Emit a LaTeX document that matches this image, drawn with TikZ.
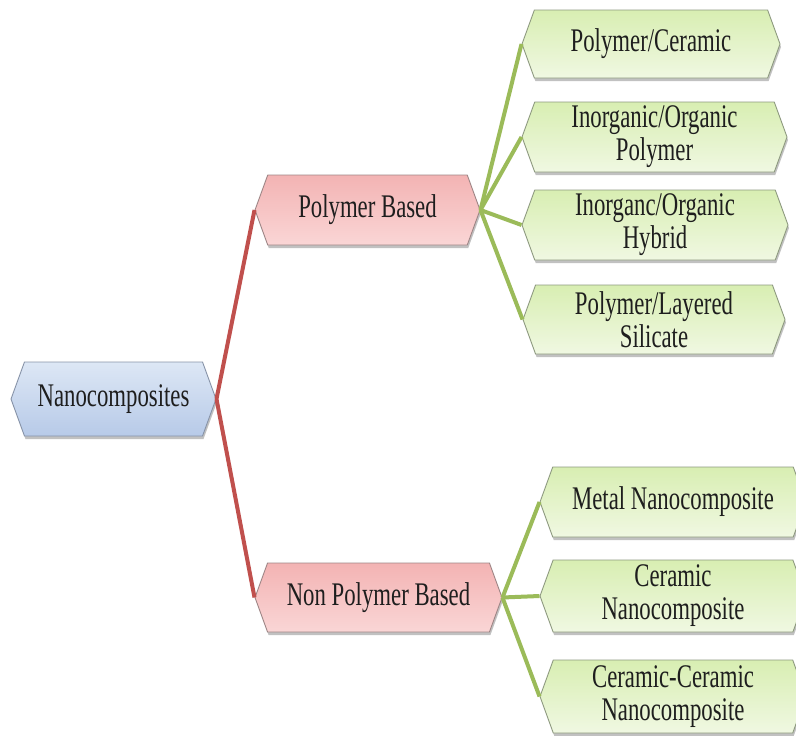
\documentclass[tikz,border=0pt]{standalone}
\usepackage{fontspec}
\setmainfont{Liberation Serif}[FakeStretch=0.69]
\usetikzlibrary{shapes.symbols,shadows}

\definecolor{txt}{HTML}{1E1E1E}
\definecolor{rootTop}{HTML}{DDE7F5}
\definecolor{rootBot}{HTML}{B7CAE8}
\definecolor{rootEdge}{HTML}{8793A8}
\definecolor{midTop}{HTML}{F3B3B3}
\definecolor{midBot}{HTML}{FAD6D6}
\definecolor{midEdge}{HTML}{9E8686}
\definecolor{leafTop}{HTML}{D8EEB2}
\definecolor{leafBot}{HTML}{F0F8E2}
\definecolor{leafEdge}{HTML}{8E9A80}
\definecolor{redLink}{HTML}{C0504D}
\definecolor{greenLink}{HTML}{9BBB59}

\tikzset{
  hexbox/.style={
    shape=signal, signal to=west and east, signal pointer angle=140,
    inner sep=2pt, align=center, text=txt, line width=0.9pt,
    font=\fontsize{33}{33}\selectfont,
    drop shadow={shadow xshift=1pt, shadow yshift=-3pt, opacity=0.35, fill=black!70}
  },
  rootbox/.style={hexbox, draw=rootEdge, top color=rootTop, bottom color=rootBot},
  midbox/.style={hexbox, draw=midEdge, top color=midTop, bottom color=midBot},
  leafbox/.style={hexbox, draw=leafEdge, top color=leafTop, bottom color=leafBot},
  redlink/.style={draw=redLink, line width=4pt},
  greenlink/.style={draw=greenLink, line width=4pt}
}

\begin{document}
\begin{tikzpicture}[x=1pt,y=1pt]
\useasboundingbox (0,0) rectangle (796,-736);
\clip (0,0) rectangle (796,-736);

% root
\node[rootbox, minimum width=205pt, minimum height=74pt] (nano) at (113.5,-399) {Nanocomposites};

% second level
\node[midbox, minimum width=225pt, minimum height=70pt] (poly) at (367.5,-210) {Polymer Based};
\node[midbox, minimum width=247pt, minimum height=69pt] (nonpoly) at (378.5,-597.5) {Non Polymer Based};

% leaves of the polymer branch
\node[leafbox, minimum width=258pt, minimum height=68pt] (pc) at (651,-44) {Polymer/Ceramic};
\node[leafbox, minimum width=265pt, minimum height=70pt] (iop) at (654.5,-137) {Inorganic/Organic\\Polymer};
\node[leafbox, minimum width=266pt, minimum height=70pt] (ioh) at (655,-225) {Inorganc/Organic\\Hybrid};
\node[leafbox, minimum width=262pt, minimum height=69pt] (pls) at (654,-319.5) {Polymer/Layered\\Silicate};

% leaves of the non-polymer branch
\node[leafbox, minimum width=266pt, minimum height=70pt] (metal) at (673,-502) {Metal Nanocomposite};
\node[leafbox, minimum width=266pt, minimum height=72pt] (cer) at (673,-596) {Ceramic\\Nanocomposite};
\node[leafbox, minimum width=266pt, minimum height=73pt] (cercer) at (673,-696.5) {Ceramic-Ceramic\\Nanocomposite};

% connectors
\draw[redlink] (nano.east) -- (poly.west);
\draw[redlink] (nano.east) -- (nonpoly.west);
\foreach \leaf in {pc,iop,ioh,pls} \draw[greenlink] (poly.east) -- (\leaf.west);
\foreach \leaf in {metal,cer,cercer} \draw[greenlink] (nonpoly.east) -- (\leaf.west);
\end{tikzpicture}
\end{document}
